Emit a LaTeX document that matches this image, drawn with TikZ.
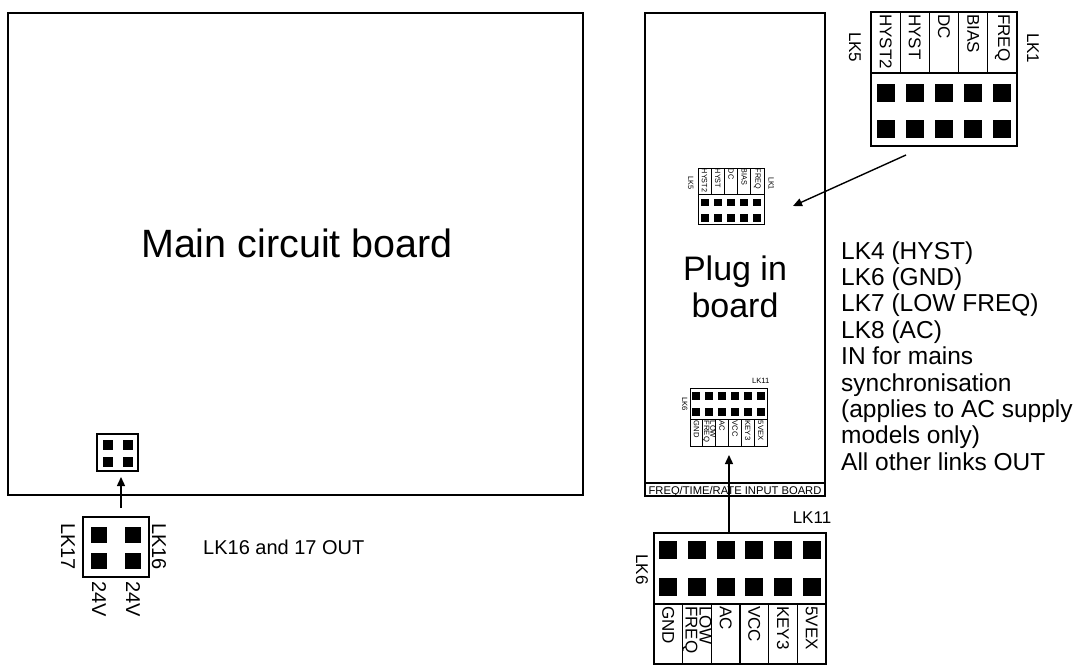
\documentclass[tikz,border=0pt]{standalone}
\usepackage{fontspec}
\setmainfont{Liberation Sans}
\usetikzlibrary{arrows.meta}
\def\bdw{1.8pt}
\def\lnw{1.3pt}
\newcommand\myTopConn{%
  \draw[bd] (0,0) rectangle (146,134);
  \draw[ln] (0,61) -- (146,61);
  \foreach \i in {1,...,4} {\draw[ln] (29.2*\i,0) -- (29.2*\i,61);}
  \foreach \i in {0,...,4} {%
    \fill (29.2*\i+5.6,72) rectangle ++(18,18);
    \fill (29.2*\i+5.6,108) rectangle ++(18,18);}
  \foreach \t [count=\i from 0] in {HYST2,HYST,DC,BIAS,FREQ}
    {\node[lbl] (tl\i) at (29.2*\i+14.6,2) {\t};}
  \node[lbl] (lkfive) at (-16,20) {LK5};
  \node[lbl] (lkone) at (162,21) {LK1};
}
\newcommand\myBotConn{%
  \draw[bd] (0,0) rectangle (172,131);
  \draw[ln] (0,71) -- (172,71);
  \foreach \i in {1,...,5} {\draw[ln] (28.67*\i,71) -- (28.67*\i,131);}
  \foreach \i in {0,...,5} {%
    \fill (28.67*\i+5.33,8) rectangle ++(18,18);
    \fill (28.67*\i+5.33,45) rectangle ++(18,18);}
  \foreach \t [count=\i from 0] in {GND,{LOW\\FREQ},AC,VCC,KEY3,5VEX}
    {\node[lbl,align=left] (bl\i) at (28.67*\i+14.33,73) {\t};}
  \node[font=\fontsize{17}{17}\selectfont,inner sep=0pt] (lkeleven) at (158,-15) {LK11};
  \node[lbl] (lksix) at (-12,21) {LK6};
}
\begin{document}
\begin{tikzpicture}[x=1pt,y=-1pt,
  bd/.style={line width=\bdw},
  ln/.style={line width=\lnw},
  arr/.style={line width=1.4pt,-{Triangle[length=9pt,width=8pt]}},
  lbl/.style={inner sep=0pt, rotate=-90, anchor=west, font=\fontsize{17}{14}\selectfont},
  board/.style={draw, line width=1.8pt, anchor=north west, inner sep=0pt, outer sep=0pt},
]
\useasboundingbox (0,0) rectangle (1076,665);

% main board
\node[board, minimum width=575pt, minimum height=482pt] (main) at (8,13) {};
\node[font=\fontsize{39.5}{39.5}\selectfont] (maintxt) at (297,243) {Main circuit board};

% small connector on main board
\draw[line width=1.6pt] (97,434) rectangle (138,471);
\foreach \x in {108,128} \foreach \y in {445,462} \fill (\x-5,\y-5) rectangle ++(10,10);

% lower left connector
\draw[line width=1.8pt] (83,517) rectangle (149,577);
\foreach \x in {99,133} \foreach \y in {535,561} \fill (\x-8,\y-8) rectangle ++(16,16);
\node[lbl,font=\fontsize{20}{20}\selectfont] (lkseventeen) at (68,523) {LK17};
\node[lbl,font=\fontsize{20}{20}\selectfont] (lksixteen) at (159,523) {LK16};
\node[lbl,font=\fontsize{20}{20}\selectfont] (vA) at (99,581) {24V};
\node[lbl,font=\fontsize{20}{20}\selectfont] (vB) at (133,581) {24V};
\node[anchor=west,inner sep=0pt,font=\fontsize{20}{20}\selectfont] (lkout) at (203,547) {LK16 and 17 OUT};
\coordinate (la1) at (121,508);
\coordinate (la2) at (121,477);
\draw[arr] (la1) -- (la2);

% plug in board
\node[board, minimum width=180pt, minimum height=483pt] (plug) at (645,13) {};
\draw[ln] (645,483) -- (825,483);
\node[anchor=base,inner sep=0pt,font=\fontsize{11.2}{12}\selectfont] (strip) at (735,494) {FREQ/TIME/RATE INPUT BOARD};
\node[align=center,font=\fontsize{34}{37}\selectfont] (plugtxt) at (735,287) {Plug in\\board};

% top connector (big)
\begin{scope}[shift={(871,12)}]
\myTopConn
\end{scope}
% top connector (small)
\def\bdw{1.0pt}\def\lnw{0.8pt}
\begin{scope}[shift={(698,168)},xscale=0.452,yscale=0.425,transform shape]
\myTopConn
\end{scope}
% bottom connector (small)
\begin{scope}[shift={(690,388)},scale=0.448,transform shape]
\myBotConn
\end{scope}
\def\bdw{1.8pt}\def\lnw{1.3pt}
% bottom connector (big)
\begin{scope}[shift={(654,533)}]
\myBotConn
\end{scope}

\coordinate (ta1) at (906,155);
\coordinate (ta2) at (793,206);
\draw[arr] (ta1) -- (ta2);
\coordinate (ba1) at (729,533);
\coordinate (ba2) at (729,455);
\draw[arr] (ba1) -- (ba2);

% right text
\foreach \t [count=\i from 0] in {{LK4 (HYST)},{LK6 (GND)},{LK7 (LOW FREQ)},{LK8 (AC)},{IN for mains},{synchronisation},{(applies to AC supply},{models only)},{All other links OUT}}
  {\node[anchor=base west,inner sep=0pt,font=\fontsize{24.5}{26}\selectfont] (r\i) at (841,259+26.4*\i) {\t};}
\end{tikzpicture}
\end{document}
